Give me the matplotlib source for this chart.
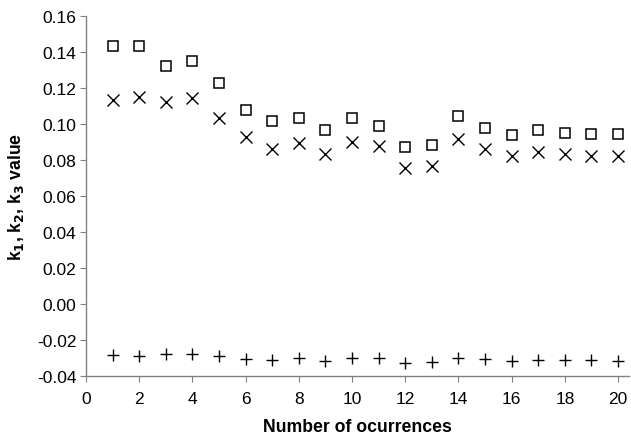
import matplotlib.pyplot as plt

plt.rcParams['font.family'] = ['Liberation Sans', 'DejaVu Sans']

occurrences = list(range(1, 21))
k1 = [0.1437, 0.1434, 0.1324, 0.1352, 0.1228, 0.1081, 0.1020, 0.1035, 0.0968, 0.1035,
      0.0992, 0.0874, 0.0886, 0.1046, 0.0977, 0.0942, 0.0970, 0.0952, 0.0944, 0.0948]
k2 = [0.1137, 0.1150, 0.1122, 0.1146, 0.1035, 0.0927, 0.0863, 0.0898, 0.0835, 0.0899,
      0.0877, 0.0757, 0.0768, 0.0918, 0.0860, 0.0821, 0.0846, 0.0835, 0.0825, 0.0824]
k3 = [-0.0286, -0.0293, -0.0277, -0.0278, -0.0293, -0.0306, -0.0314, -0.0304, -0.0316, -0.0304,
      -0.0304, -0.0328, -0.0325, -0.0304, -0.0307, -0.0316, -0.0314, -0.0314, -0.0314, -0.0316]

fig = plt.figure(figsize=(6.31, 4.35), dpi=100)
ax = fig.add_axes([0.1363, 0.134, 0.86, 0.826])

ax.plot(occurrences, k1, linestyle='none', marker='s', markersize=7,
        markerfacecolor='white', markeredgecolor='black', markeredgewidth=1.1)
ax.plot(occurrences, k2, linestyle='none', marker='x', markersize=8,
        color='black', markeredgewidth=1.0)
ax.plot(occurrences, k3, linestyle='none', marker='+', markersize=9,
        color='black', markeredgewidth=1.0)

ax.set_xlim(0, 20.4)
ax.set_ylim(-0.04, 0.16)
ax.set_xticks(range(0, 21, 2))
ax.set_yticks([-0.04 + 0.02 * i for i in range(11)])
ax.set_yticklabels([f"{-0.04 + 0.02 * i:.2f}" for i in range(11)])

for side in ['top', 'right']:
    ax.spines[side].set_visible(False)
for side in ['left', 'bottom']:
    ax.spines[side].set_color('#808080')
    ax.spines[side].set_linewidth(1.0)

ax.tick_params(axis='both', colors='#808080', labelcolor='black', labelsize=12.5,
               length=4, width=0.8, direction='out')
ax.tick_params(axis='y', pad=3)
ax.tick_params(axis='x', pad=7)

ax.set_xlabel('Number of ocurrences', fontsize=12.7, fontweight='bold', labelpad=9)
ax.set_ylabel('k$_\\mathbf{1}$, k$_\\mathbf{2}$, k$_\\mathbf{3}$ value',
              fontsize=12.7, fontweight='bold', labelpad=8)

fig.savefig('out.png', dpi=100)
